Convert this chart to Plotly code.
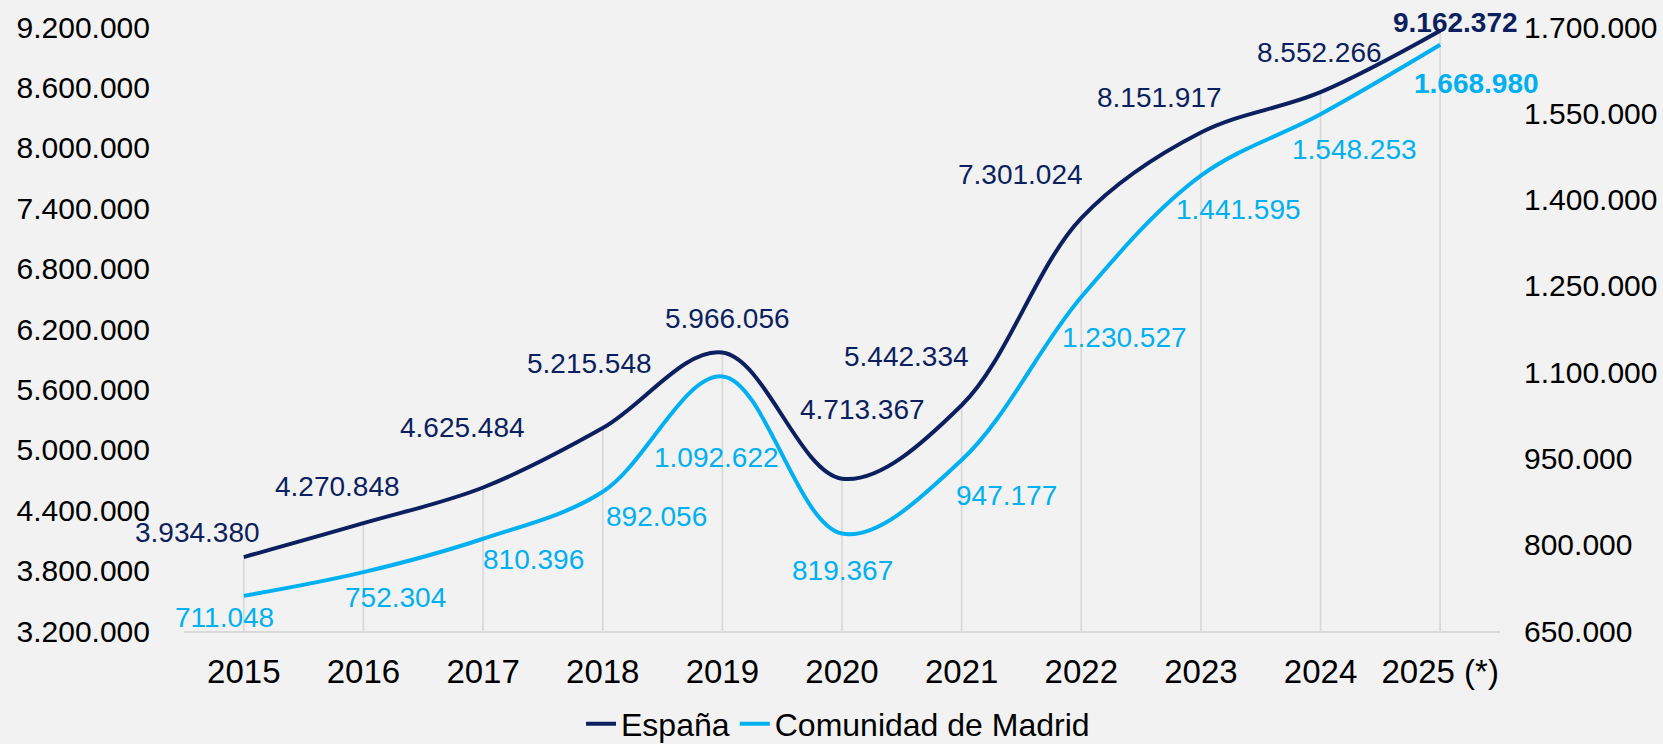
import plotly.graph_objects as go

# ---- data ----
years = ["2015", "2016", "2017", "2018", "2019", "2020", "2021", "2022", "2023", "2024", "2025 (*)"]
espana = [3934380, 4270848, 4625484, 5215548, 5966056, 4713367, 5442334, 7301024, 8151917, 8552266, 9162372]
madrid = [711048, 752304, 810396, 892056, 1092622, 819367, 947177, 1230527, 1441595, 1548253, 1668980]

# ---- label offsets (pixels, dx right / dy up) ----
esp_dx = [-46, -26, -21, -13, 5, 20, -55, -61, -41, -1, 15]
esp_dy = [25, 37, 60, 65, 34, 69, 49, 44, 35, 40, 8]
mad_dx = [-19, 32, 50, 54, -6, 0, 45, 43, 38, 34, 36]
mad_dy = [-22, -25, -21, -25, -81, -37, -35, -40, -34, -35, -39]

NAVY = "#0C1F5E"
CYAN = "#00B0F0"
GRID = "#D9D9D9"
BG = "#F2F2F2"
FONT = "Liberation Sans, Arial, sans-serif"

Y1_MIN, Y1_MAX, Y1_STEP = 3200000, 9200000, 600000
Y2_MIN, Y2_MAX, Y2_STEP = 650000, 1700000, 150000


def fmt(v):
    return f"{v:,}".replace(",", ".")


fig = go.Figure()

# drop lines from the España points down to the axis
dx, dy = [], []
for i, v in enumerate(espana):
    dx += [i, i, None]
    dy += [v, Y1_MIN, None]
fig.add_trace(go.Scatter(x=dx, y=dy, mode="lines", line=dict(color=GRID, width=1.7),
                         showlegend=False, hoverinfo="skip", yaxis="y"))

idx = list(range(len(years)))
fig.add_trace(go.Scatter(x=idx, y=espana, name="España", mode="lines",
                         line=dict(color=NAVY, width=4, shape="spline", smoothing=1.0),
                         yaxis="y"))
fig.add_trace(go.Scatter(x=idx, y=madrid, name="Comunidad de Madrid", mode="lines",
                         line=dict(color=CYAN, width=4, shape="spline", smoothing=1.0),
                         yaxis="y2"))

annotations = []
n = len(years)
for i, v in enumerate(espana):
    txt = fmt(v)
    if i == n - 1:
        txt = f"<b>{txt}</b>"
    annotations.append(dict(x=i, y=v, xref="x", yref="y", text=txt, showarrow=False,
                            xshift=esp_dx[i], yshift=esp_dy[i],
                            font=dict(family=FONT, size=28, color=NAVY)))
for i, v in enumerate(madrid):
    txt = fmt(v)
    if i == n - 1:
        txt = f"<b>{txt}</b>"
    annotations.append(dict(x=i, y=v, xref="x", yref="y2", text=txt, showarrow=False,
                            xshift=mad_dx[i], yshift=mad_dy[i],
                            font=dict(family=FONT, size=28, color=CYAN)))

fig.update_layout(
    width=1663, height=744,
    margin=dict(l=184, r=163, t=27, b=113, autoexpand=False),
    paper_bgcolor=BG, plot_bgcolor=BG,
    separators=",.",
    font=dict(family=FONT, color="#000000"),
    showlegend=True,
    legend=dict(orientation="h", xref="container", yref="container",
                x=838 / 1663, xanchor="center", y=(744 - 724) / 744, yanchor="middle",
                font=dict(family=FONT, size=32, color="#000000"),
                bgcolor="rgba(0,0,0,0)", itemwidth=30, tracegroupgap=0),
    annotations=annotations,
    xaxis=dict(tickmode="array", tickvals=idx, ticktext=years,
               range=[-0.5, len(years) - 0.5],
               showgrid=False, zeroline=False,
               showline=True, linecolor=GRID, linewidth=2,
               ticks="", ticklabelstandoff=10,
               tickfont=dict(family=FONT, size=33, color="#000000")),
    yaxis=dict(range=[Y1_MIN, Y1_MAX], tick0=Y1_MIN, dtick=Y1_STEP, tickformat=",d",
               showgrid=False, zeroline=False, showline=False, ticks="",
               ticklabelstandoff=33,
               tickfont=dict(family=FONT, size=30, color="#000000")),
    yaxis2=dict(range=[Y2_MIN, Y2_MAX], tick0=Y2_MIN, dtick=Y2_STEP, tickformat=",d",
                overlaying="y", side="right",
                showgrid=False, zeroline=False, showline=False, ticks="",
                ticklabelstandoff=23,
                tickfont=dict(family=FONT, size=30, color="#000000")),
)

fig.write_html(
    "out.html",
    config={"displayModeBar": False},
    post_script="document.body.style.margin='0';document.body.style.padding='0';"
                "document.body.style.overflow='hidden';",
)
